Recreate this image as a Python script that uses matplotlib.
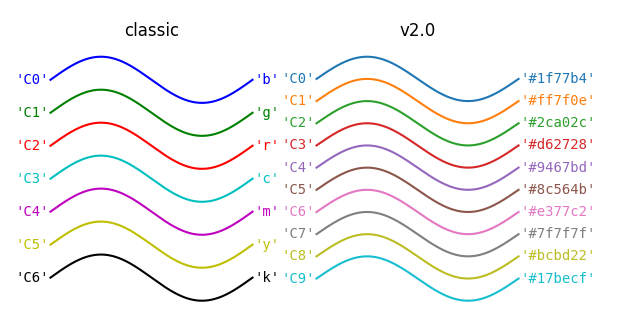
import numpy as np
import matplotlib
matplotlib.use("Agg")
import matplotlib.pyplot as plt

# colour lists shown in each panel
classic_colors = ['b', 'g', 'r', 'c', 'm', 'y', 'k']
new_colors = ['#1f77b4', '#ff7f0e', '#2ca02c', '#d62728', '#9467bd',
              '#8c564b', '#e377c2', '#7f7f7f', '#bcbd22', '#17becf']
titles = ['classic', 'v2.0']
amplitude = 0.1

th = np.linspace(0, 2 * np.pi, 512)

fig = plt.figure(figsize=(6.26, 3.18), dpi=100)
ax1 = fig.add_axes([0.0645, 0.016, 0.355, 0.844])
ax2 = fig.add_axes([0.4895, 0.016, 0.355, 0.844])


def color_demo(ax, colors, title):
    ax.set_title(title)
    for j, c in enumerate(colors):
        v_offset = -(j / len(colors))
        ax.plot(th, amplitude * np.sin(th) + v_offset, color=c, lw=1.5)
        ax.annotate("'C{}'".format(j), (0, v_offset), xytext=(-1.5, 0),
                    ha='right', va='center', color=c,
                    textcoords='offset points', family='monospace')
        ax.annotate("{!r}".format(c), (2 * np.pi, v_offset), xytext=(1.5, 0),
                    ha='left', va='center', color=c,
                    textcoords='offset points', family='monospace')
    ax.axis('off')


color_demo(ax1, classic_colors, titles[0])
color_demo(ax2, new_colors, titles[1])

fig.savefig('out.png', dpi=100)
